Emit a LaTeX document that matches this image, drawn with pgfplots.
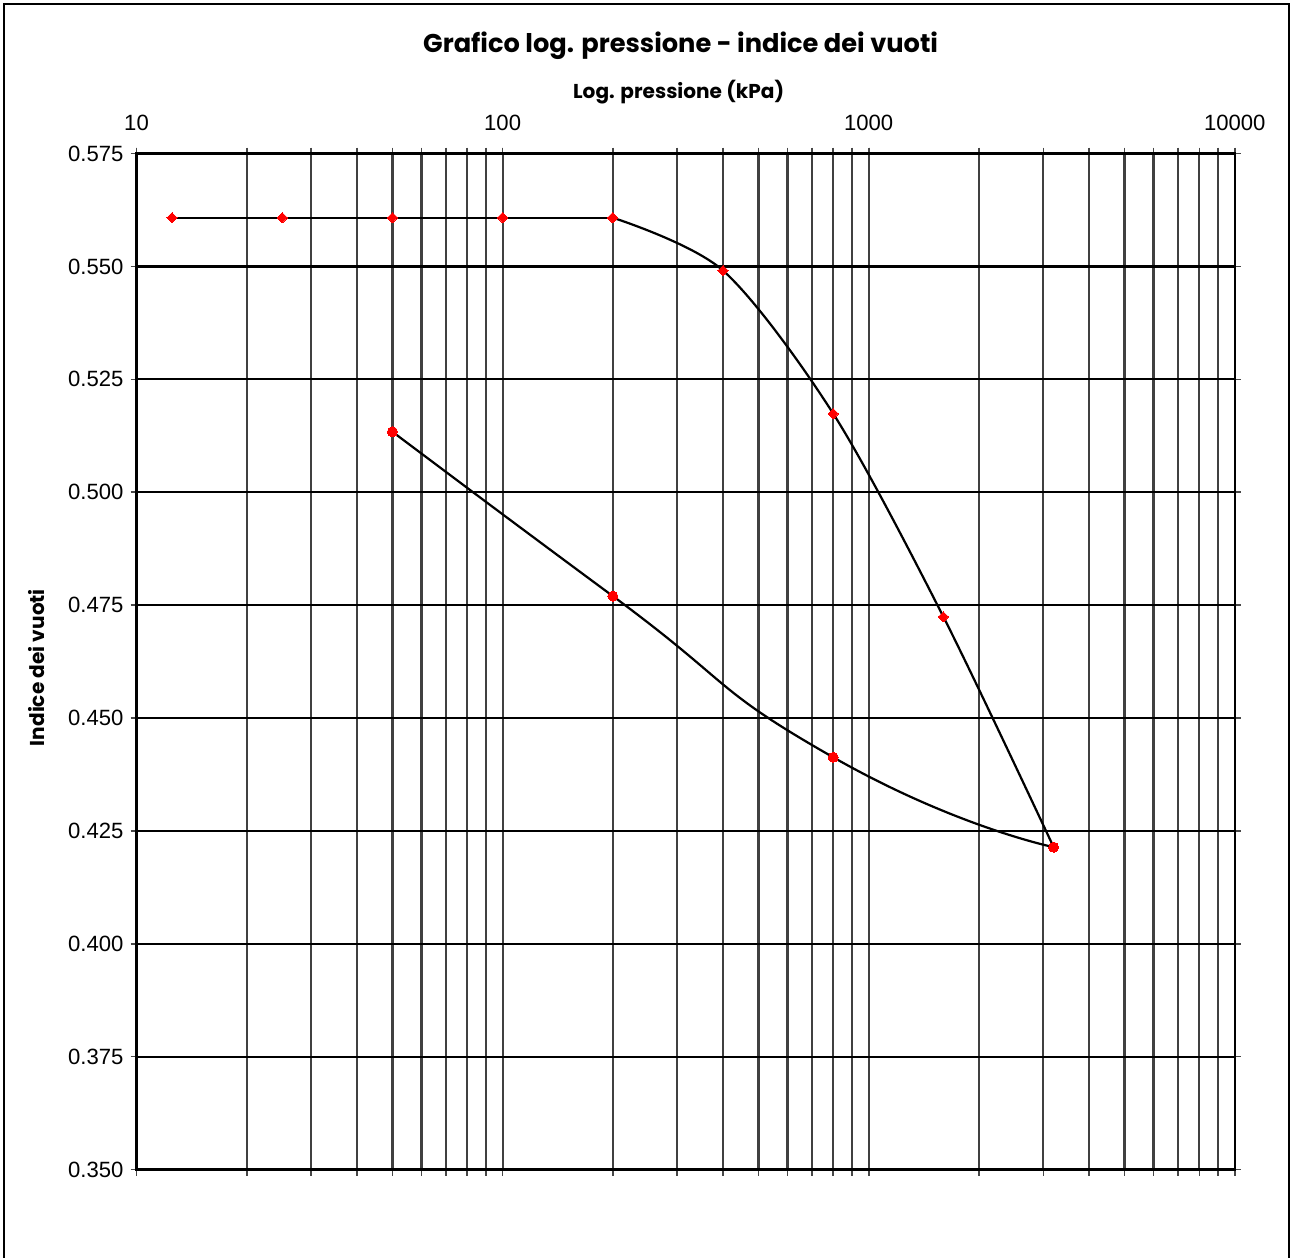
\documentclass[border=0pt]{standalone}
\usepackage{pgfplots}
\pgfplotsset{compat=1.18}
\usepackage{fontspec}
\setmainfont{Liberation Sans}
\newfontfamily\comic{Poppins}
\begin{document}
\begin{tikzpicture}
\begin{axis}[name=ax, at={(0,0)}, anchor=south west,
  scale only axis, width=547pt, height=506pt,
  xmode=log, xmin=10, xmax=10000, ymin=0.35, ymax=0.575,
  xtick={10,100,1000,10000}, xticklabels={10,100,1000,10000},
  xticklabel pos=top,
  ytick={0.35,0.375,0.4,0.425,0.45,0.475,0.5,0.525,0.55,0.575},
  yticklabel style={/pgf/number format/fixed,/pgf/number format/fixed zerofill,/pgf/number format/precision=3},
  /pgf/number format/assume math mode=true,
  tick label style={font=\fontsize{11}{13}\selectfont, text=black},
  xticklabel style={yshift=5pt},
  grid=both,
  major x grid style={black!75, line width=1.1pt},
  minor x grid style={black!75, line width=1.1pt},
  major y grid style={black, line width=1.1pt},
  axis line style={black, line width=1.1pt},
  tick align=outside, major tick length=3pt, minor tick length=3pt,
  tick style={black!72, line width=0.8pt},
  clip=false,
]
\addplot[black, line width=1.1pt, mark=square*, mark size=1.8pt,
  mark options={red, fill=red, line width=0pt, rotate=45}] coordinates {
 (12.5,0.5608) (25,0.5608) (50,0.5608) (100,0.5608) (200,0.5608)};
\addplot[black, line width=1.1pt, smooth, tension=0.5, mark=square*, mark size=1.8pt,
  mark options={red, fill=red, line width=0pt, rotate=45}] coordinates {
 (200,0.5608) (400,0.5491) (800,0.5174) (1600,0.4724) (3200,0.4214)};
\addplot[black, line width=1.1pt, smooth, tension=1.0, mark=*, mark size=2.5pt,
  mark options={red, fill=red, line width=0pt}] coordinates {
 (3200,0.4214) (800,0.4413) (200,0.4770) (50,0.5134)};
\end{axis}
\draw[black, line width=0.8pt] (-66pt,-44pt) -- (-66pt,580.5pt) -- (574pt,580.5pt) -- (574pt,-44pt);
\path (-68pt,-44pt) -- (576pt,582.5pt);
\node[font=\comic\bfseries\fontsize{12.8}{15}\selectfont] at (271pt,559.5pt) {Grafico log. pressione - indice dei vuoti};
\node[font=\comic\bfseries\fontsize{10}{12}\selectfont] at (270pt,536.5pt) {Log. pressione (kPa)};
\node[font=\comic\bfseries\fontsize{10}{12}\selectfont, rotate=90] at (-50pt,250pt) {Indice dei vuoti};
\end{tikzpicture}
\end{document}
